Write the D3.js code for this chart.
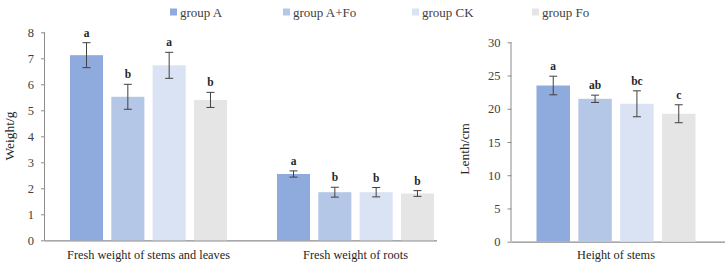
<!DOCTYPE html>
<html><head><meta charset="utf-8">
<script src="https://cdn.jsdelivr.net/npm/d3@7/dist/d3.min.js"></script>
<style>body{margin:0;background:#fff}svg{display:block}svg text{font-family:"Liberation Serif","DejaVu Serif",serif !important}</style>
</head><body><svg id="c" width="726" height="269" font-family="Liberation Serif"></svg>
<script>
const groups = ["group A", "group A+Fo", "group CK", "group Fo"];
const colors = ["#8faadc", "#b4c7e7", "#dae3f3", "#e5e5e5"];
const leftCategories = ["Fresh weight of stems and leaves", "Fresh weight of roots"];
const leftValues = [[7.12, 5.52, 6.73, 5.40], [2.55, 1.85, 1.85, 1.80]];
const leftErrors = [[0.48, 0.48, 0.50, 0.29], [0.12, 0.19, 0.18, 0.11]];
const leftLetters = [["a", "b", "a", "b"], ["a", "b", "b", "b"]];
const leftTicks = [0, 1, 2, 3, 4, 5, 6, 7, 8];
const rightCategories = ["Height of stems"];
const rightValues = [[23.5, 21.5, 20.75, 19.25]];
const rightErrors = [[1.4, 0.55, 1.95, 1.35]];
const rightLetters = [["a", "ab", "bc", "c"]];
const rightTicks = [0, 5, 10, 15, 20, 25, 30];

const svg = d3.select("#c");
const axisColor = "#8c8c8c", errColor = "#404040", textColor = "#404040";

function panel(o) {
  const g = svg.append("g");
  const y = d3.scaleLinear().domain(o.domain).range([o.y0, o.y1]);
  const x0 = d3.scaleBand().domain(o.categories).range(o.xRange);
  const x1 = d3.scaleBand().domain(groups).range([-o.span / 2, o.span / 2]).paddingInner(0.2);
  const ya = g.append("g").attr("transform", `translate(${o.axisX},0)`)
    .call(d3.axisLeft(y).tickValues(o.ticks).tickSize(4).tickPadding(7).tickFormat(d3.format("d")));
  ya.attr("font-family", null);
  ya.select(".domain").attr("stroke", axisColor).attr("d", `M-0.5,${o.y1}V${o.y0}`);
  ya.selectAll(".tick line").attr("stroke", axisColor);
  ya.selectAll(".tick text").attr("fill", textColor).style("font-size", "12.5px");
  g.append("line").attr("x1", o.axisX).attr("x2", o.axisEnd).attr("y1", y(0) + 0.5).attr("y2", y(0) + 0.5)
    .attr("stroke", axisColor).attr("stroke-width", 1.3);
  o.categories.forEach((cat, ci) => {
    const cx = x0(cat) + x0.bandwidth() / 2;
    groups.forEach((grp, gi) => {
      const v = o.values[ci][gi], e = o.errors[ci][gi];
      const bx = cx + x1(grp);
      g.append("rect").attr("x", bx).attr("y", y(v)).attr("width", x1.bandwidth()).attr("height", y(0) - y(v))
        .attr("fill", colors[gi]);
      const mx = bx + x1.bandwidth() / 2;
      g.append("line").attr("x1", mx).attr("x2", mx).attr("y1", y(v + e)).attr("y2", y(v - e)).attr("stroke", errColor).attr("stroke-width", 1);
      [v + e, v - e].forEach(t => g.append("line").attr("x1", mx - 4).attr("x2", mx + 4).attr("y1", y(t)).attr("y2", y(t)).attr("stroke", errColor).attr("stroke-width", 1));
      g.append("text").attr("x", mx).attr("y", y(v + e) - 6).attr("text-anchor", "middle")
        .style("font-size", "11.5px").style("font-weight", "bold").attr("fill", "#262626").text(o.letters[ci][gi]);
    });
    g.append("text").attr("x", cx).attr("y", 259).attr("text-anchor", "middle").style("font-size", "12.3px")
      .attr("fill", "#262626").text(cat);
  });
  g.append("text").attr("transform", `translate(${o.titleX},${o.titleY}) rotate(-90)`).attr("text-anchor", "middle")
    .style("font-size", "13.5px").attr("fill", "#262626").text(o.title);
}

panel({categories: leftCategories, values: leftValues, errors: leftErrors, letters: leftLetters, ticks: leftTicks,
  domain: [0, 8], y0: 240.3, y1: 32.3, xRange: [45, 459], span: 157, axisX: 45, axisEnd: 437,
  title: "Weight/g", titleX: 14, titleY: 136});
panel({categories: rightCategories, values: rightValues, errors: rightErrors, letters: rightLetters, ticks: rightTicks,
  domain: [0, 30], y0: 241.7, y1: 42.3, xRange: [516, 716], span: 159, axisX: 511.5, axisEnd: 725,
  title: "Lenth/cm", titleX: 469, titleY: 149});

const legendX = [170, 283, 412, 532];
const lg = svg.append("g");
groups.forEach((grp, i) => {
  lg.append("rect").attr("x", legendX[i]).attr("y", 8.5).attr("width", 7).attr("height", 7).attr("fill", colors[i]);
  lg.append("text").attr("x", legendX[i] + 10).attr("y", 16.5).style("font-size", "13px").attr("fill", "#404040").text(grp);
});
</script></body></html>
